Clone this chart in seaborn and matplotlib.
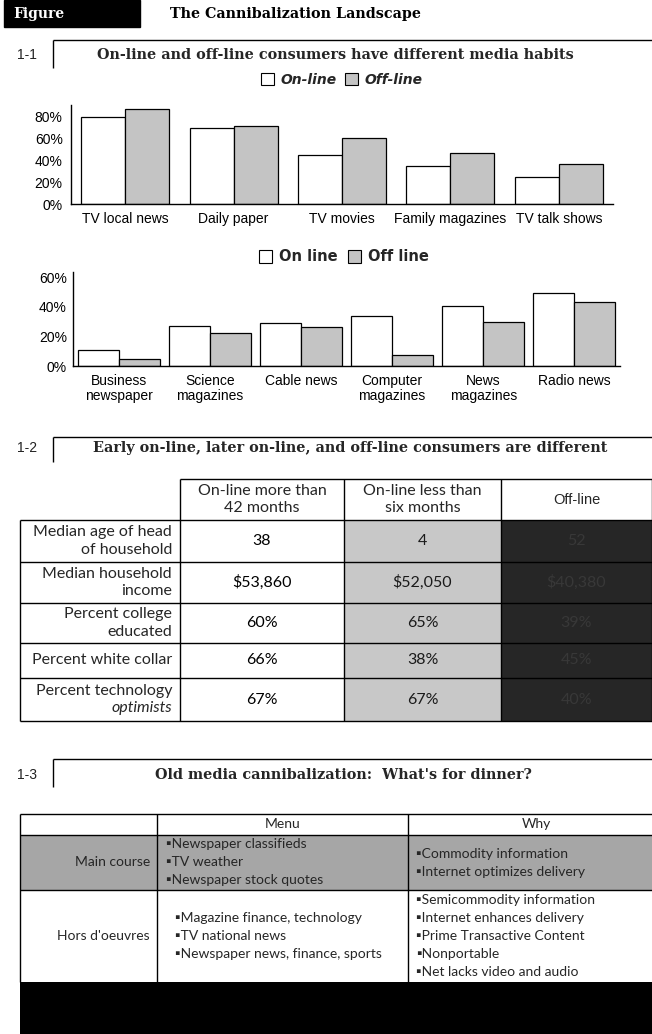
import numpy as np
import pandas as pd
import matplotlib
matplotlib.use("Agg")
import matplotlib.pyplot as plt
import seaborn as sns
from matplotlib.patches import Rectangle

# ---------------- data ----------------
media1 = ["TV local news", "Daily paper", "TV movies", "Family magazines", "TV talk shows"]
online1 = [79, 69, 45, 35, 25]
offline1 = [86, 71, 60, 46, 36]
ticks1 = [0, 20, 40, 60, 80]

media2 = ["Business\nnewspaper", "Science\nmagazines", "Cable news", "Computer\nmagazines",
          "News\nmagazines", "Radio news"]
online2 = [11, 27, 29, 33.5, 40.5, 49.5]
offline2 = [4.5, 22.5, 26, 7.5, 29.5, 43]
ticks2 = [0, 20, 40, 60]

groups1 = ["On-line", "Off-line"]
groups2 = ["On line", "Off line"]

profile_rows = ["Median age of head\nof household", "Median household\nincome",
                "Percent college\neducated", "Percent white collar",
                "Percent technology\noptimists"]
profile_cols = ["On-line more than\n42 months", "On-line less than\nsix months", "Off-line"]
early_vals = ["38", "$53,860", "60%", "66%", "67%"]
later_vals = ["4", "$52,050", "65%", "38%", "67%"]
offline_vals = ["52", "$40,380", "39%", "45%", "40%"]

dinner_rows = ["Main course", "Hors d'oeuvres"]
dinner_cols = ["Menu", "Why"]
menu_items = [["Newspaper classifieds", "TV weather", "Newspaper stock quotes"],
              ["Magazine finance, technology", "TV national news", "Newspaper news, finance, sports"]]
why_items = [["Commodity information", "Internet optimizes delivery"],
             ["Semicommodity information", "Internet enhances delivery", "Prime Transactive Content",
              "Nonportable", "Net lacks video and audio"]]

# ---------------- figure ----------------
W, H = 652, 1034
sns.set_theme(style="white")
plt.rcParams["font.family"] = ["Liberation Sans", "DejaVu Sans"]
fig = plt.figure(figsize=(W / 100, H / 100), dpi=100)
fig.patch.set_facecolor("white")

def rect_px(x0, ytop, x1, ybot):
    return [x0 / W, 1 - ybot / H, (x1 - x0) / W, (ybot - ytop) / H]

ov = fig.add_axes([0, 0, 1, 1], zorder=0)
ov.set_xlim(0, W)
ov.set_ylim(H, 0)
ov.axis("off")

SERIF = ["DejaVu Serif"]
TAB = ["Lato", "DejaVu Sans"]
ON_C, OFF_C = "white", "#c4c4c4"

def hline(x0, x1, y, lw=1.0):
    ov.plot([x0, x1], [y, y], color="black", lw=lw, solid_capstyle="butt")

def vline(x, y0, y1, lw=1.0):
    ov.plot([x, x], [y0, y1], color="black", lw=lw, solid_capstyle="butt")

# header
ov.add_patch(Rectangle((4, 0), 136, 27, color="black"))
ov.text(13, 14, "Figure", color="white", family=SERIF, weight="bold", fontsize=10, va="center")
ov.text(170, 14, "The Cannibalization Landscape", color="black", family=SERIF, weight="bold",
        fontsize=10.3, va="center")

# section heads
def section(label, title, ytop, ybot, xc, yt):
    hline(53, W, ytop)
    vline(53, ytop, ybot)
    ov.text(27, yt, label, fontsize=10, ha="center", va="center", color="#222222")
    ov.text(xc, yt, title, family=SERIF, weight="bold", fontsize=10.4, ha="center", va="center")

section("1-1", "On-line and off-line consumers have different media habits", 40, 68, 335, 55)
section("1-2", "Early on-line, later on-line, and off-line consumers are different", 437, 462, 350, 448)
section("1-3", "Old media cannibalization:  What's for dinner?", 759, 787, 343, 775)

# ---------------- bar charts ----------------
def bar_chart(cats, on, off, grp, ticks, rect, ymax, width, ypad, xpad, leg_xy, leg_style, colsp):
    df = pd.DataFrame({"Media": cats * 2, "Share": on + off,
                       "Group": [grp[0]] * len(cats) + [grp[1]] * len(cats)})
    ax = fig.add_axes(rect, zorder=2)
    sns.barplot(data=df, x="Media", y="Share", hue="Group", order=cats, hue_order=grp,
                palette={grp[0]: ON_C, grp[1]: OFF_C}, saturation=1, errorbar=None,
                edgecolor="black", linewidth=0.9, width=width, ax=ax)
    ax.get_legend().remove()
    ax.set_xlim(-0.5, len(cats) - 0.5)
    ax.set_ylim(0, ymax)
    ax.set_yticks(ticks)
    ax.set_yticklabels([f"{t}%" for t in ticks])
    ax.set_xlabel("")
    ax.set_ylabel("")
    ax.patch.set_alpha(0)
    for s in ["top", "right"]:
        ax.spines[s].set_visible(False)
    for s in ["left", "bottom"]:
        ax.spines[s].set_color("black")
        ax.spines[s].set_linewidth(1.0)
    ax.tick_params(axis="y", length=0, pad=ypad, labelsize=10, labelcolor="black")
    ax.tick_params(axis="x", length=0, pad=xpad, labelsize=10, labelcolor="black")
    for lab in ax.get_xticklabels():
        lab.set_linespacing(1.05)
    handles = [Rectangle((0, 0), 1, 1, facecolor=c, edgecolor="black", lw=0.8)
               for c in (ON_C, OFF_C)]
    fig.legend(handles, grp, loc="center", bbox_to_anchor=(leg_xy[0] / W, 1 - leg_xy[1] / H),
               ncol=2, frameon=False, handlelength=0.9, handleheight=0.9, handletextpad=0.5,
               columnspacing=colsp, borderpad=0, prop=leg_style)
    return ax

bar_chart(media1, online1, offline1, groups1, ticks1, rect_px(71, 105, 613, 204), 90, 0.81,
          6, 6, (342, 80), {"family": "DejaVu Sans", "style": "italic", "weight": "bold", "size": 10},
          0.6)
bar_chart(media2, online2, offline2, groups2, ticks2, rect_px(73, 272, 620, 366), 63.4, 0.9,
          4.5, 6, (344, 257), {"family": "DejaVu Sans", "weight": "bold", "size": 10.5}, 0.7)

# ---------------- table 1-2 ----------------
tx = [20, 180, 344, 501, W]
ty = [479, 520, 562, 603, 643, 678, 721]
ov.add_patch(Rectangle((tx[2], ty[1]), tx[3] - tx[2], ty[-1] - ty[1], color="#c8c8c8", lw=0))
ov.add_patch(Rectangle((tx[3], ty[1]), tx[4] - tx[3], ty[-1] - ty[1], color="#262626", lw=0))
hline(tx[1], W, ty[0])
for y in ty[1:]:
    hline(tx[0], W, y)
vline(tx[0], ty[1], ty[-1])
for x in tx[1:4]:
    vline(x, ty[0], ty[-1])
vline(W - 0.5, ty[0], ty[-1])

fs_tab = 11.5
for j, head in enumerate(profile_cols):
    xc = (tx[j + 1] + tx[j + 2]) / 2
    if j < 2:
        lines = head.split("\n")
        for k, ln in enumerate(lines):
            ov.text(xc, (ty[0] + ty[1]) / 2 + (k - 0.5) * 17.5, ln, family=TAB, fontsize=fs_tab,
                    ha="center", va="center")
    else:
        ov.text(xc, (ty[0] + ty[1]) / 2 + 1, head, family=["Liberation Sans"], fontsize=10.5,
                ha="center", va="center")

for i, lab in enumerate(profile_rows):
    yc = (ty[i + 1] + ty[i + 2]) / 2
    lines = lab.split("\n")
    n = len(lines)
    for k, ln in enumerate(lines):
        yy = yc + (k - (n - 1) / 2) * 17.5
        ov.text(172, yy, ln, family=TAB, fontsize=fs_tab, ha="right", va="center",
                style="italic" if ln == "optimists" else "normal")
    cols = [early_vals[i], later_vals[i], offline_vals[i]]
    colors = ["black", "#1a1a1a", "#383838"]
    for j, v in enumerate(cols):
        xc = (tx[j + 1] + tx[j + 2]) / 2
        ov.text(xc, yc, v, family=TAB, fontsize=fs_tab, ha="center", va="center", color=colors[j])

# ---------------- table 1-3 ----------------
dx = [20, 157, 408, W]
dy = [814, 835, 890, 982]
ov.add_patch(Rectangle((dx[0], dy[1]), W - dx[0], dy[2] - dy[1], color="#a6a6a6", lw=0))
ov.add_patch(Rectangle((dx[0], dy[3]), W - dx[0], H - dy[3], color="black", lw=0))
for y in dy[:3]:
    hline(dx[0], W, y)
for x in dx[:3]:
    vline(x, dy[0], dy[3])

fs_d = 10
ov.text((dx[1] + dx[2]) / 2, (dy[0] + dy[1]) / 2, dinner_cols[0], family=TAB, fontsize=fs_d,
        ha="center", va="center")
ov.text(536, (dy[0] + dy[1]) / 2, dinner_cols[1], family=TAB, fontsize=fs_d,
        ha="center", va="center")
menu_x = [166, 175]
for i, rl in enumerate(dinner_rows):
    yc = (dy[i + 1] + dy[i + 2]) / 2
    ov.text(150, yc, rl, family=TAB, fontsize=fs_d, ha="right", va="center")
    items = menu_items[i]
    for k, it in enumerate(items):
        yy = yc + (k - (len(items) - 1) / 2) * 18
        ov.text(menu_x[i], yy, "\u25aa" + it, family=TAB, fontsize=fs_d, ha="left", va="center")
    items = why_items[i]
    for k, it in enumerate(items):
        yy = yc + (k - (len(items) - 1) / 2) * 18
        ov.text(416, yy, "\u25aa" + it, family=TAB, fontsize=fs_d, ha="left", va="center")

fig.savefig("out.png", dpi=100, facecolor="white")
